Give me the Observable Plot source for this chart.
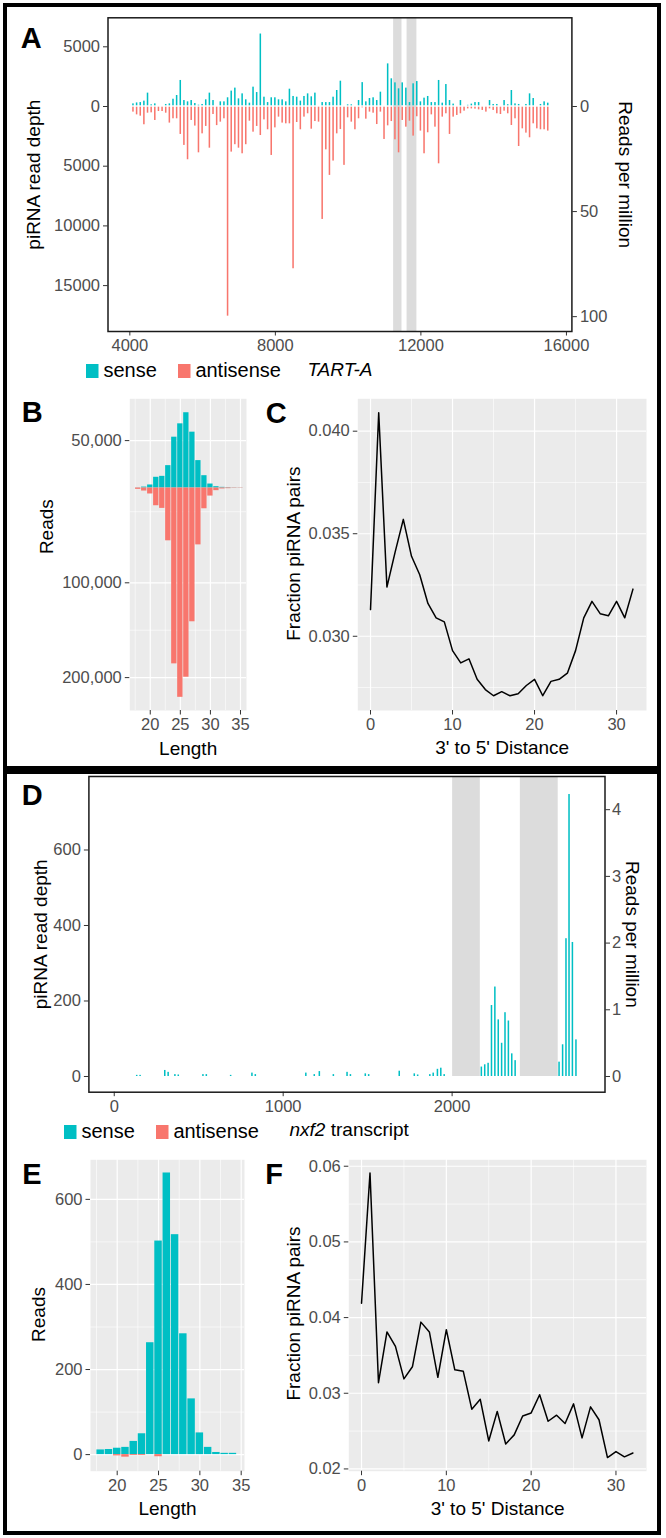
<!DOCTYPE html>
<html><head><meta charset="utf-8">
<script src="https://cdn.jsdelivr.net/npm/d3@7"></script>
<script src="https://cdn.jsdelivr.net/npm/@observablehq/plot@0.6"></script>
<style>
body{margin:0;background:#fff;}
#root{position:relative;width:666px;height:1538px;overflow:hidden;background:#fff;font-family:Helvetica,Arial,"Liberation Sans",sans-serif;}
.box{position:absolute;border:4.5px solid #000;box-sizing:border-box;}
.lgwrap .lgd-swatches{font-family:Helvetica,Arial,"Liberation Sans",sans-serif;font-size:20px;color:#000;margin:0;min-height:24px;height:24px;display:flex;align-items:center;}
.lgwrap .lgd-swatch{margin-right:21px;}
.lgwrap .lgd-swatch > svg{margin-right:5px;}
</style></head>
<body><div id="root"></div>
<script>
// ---------------- DATA ----------------
const strands = ["sense", "antisense"];
const strandColors = ["#00BFC4", "#F8766D"];

// Panel A: TART-A coverage, 100-nt bins starting at 4100
const tartBinStart = 4100, tartBinSize = 100;
const tartSense = [220,300,330,450,1120,140,220,40,40,170,220,610,920,2180,500,390,500,250,110,170,560,1120,500,
  50,390,390,730,1290,1540,640,1060,560,280,1620,1170,6070,780,330,730,730,560,560,390,1450,840,780,450,840,1060,810,1120,0,330,
  330,330,780,1340,2120,0,140,140,0,500,2000,390,670,730,500,1200,0,3570,2320,1980,1480,1980,1540,330,1900,2090,390,700,840,330,
  330,2180,280,1840,500,200,0,500,0,100,200,330,330,0,50,500,170,170,0,500,150,1340,220,170,0,170,1060,670,0,170,390,280];
const tartAntisense = [470,700,810,1530,560,530,1170,420,420,560,1390,1030,1030,2340,3260,4460,1170,1640,3880,2290,1670,3490,670,
  1600,1310,1030,17560,3820,3200,3490,3960,3200,1230,2150,1670,2430,1120,1950,4100,1790,890,1390,1450,1450,13590,1340,1950,890,610,1900,1260,1310,9460,
  3630,5770,4570,2290,1930,4930,950,1310,1950,1030,110,1060,470,560,1510,470,2760,1620,1260,2790,3880,1170,1730,1230,2480,860,2060,3960,2200,700,
  1730,4800,890,610,2340,890,750,610,390,200,200,220,280,330,470,200,330,610,670,390,610,1590,1030,3350,1870,2230,2620,1450,1870,1950,1950,2060];
const tartBands = [[11250, 11480], [11620, 11890]];
const tartDepthTicks = [5000, 0, -5000, -10000, -15000];
const tartPosTicks = [4000, 8000, 12000, 16000];
const tartRpmTicks = [0, 50, 100];
const tartRpmFactor = 176; // reads per 1 RPM

// Panel B: TART-A length distribution
const bLengths = [18,19,20,21,22,23,24,25,26,27,28,29,30,31,32,33,34,35];
const bSense = [150,1000,3200,11300,12300,23600,53600,67700,79400,58900,28900,13000,4200,1400,700,350,150,100];
const bAntisense = [1400,3200,6300,18700,21500,55700,185500,220800,199600,141100,60000,21900,8500,2800,1000,700,350,300];
const bReadTicks = [50000, -100000, -200000];

// Panel C: TART-A ping-pong
const distances = [0,1,2,3,4,5,6,7,8,9,10,11,12,13,14,15,16,17,18,19,20,21,22,23,24,25,26,27,28,29,30,31,32];
const cFraction = [0.0313,0.0409,0.0324,0.0341,0.0357,0.0339,0.0330,0.0316,0.0309,0.0307,0.0293,0.0287,0.0289,0.0279,0.0274,0.0271,0.0273,
  0.0271,0.0272,0.0276,0.0279,0.0271,0.0278,0.0279,0.0282,0.0293,0.0309,0.0317,0.0311,0.0310,0.0317,0.0309,0.0323];

// Panel D: nxf2 transcript coverage
const nxf2Pos = [136,156,302,322,362,382,528,548,692,818,838,1137,1187,1217,1300,1381,1401,1489,1509,1690,1779,1799,1871,1891,1916,1936,1956,
  2176,2196,2216,2236,2256,2276,2296,2316,2336,2356,2376,2636,2657,2677,2695,2715,2736];
const nxf2Sense = [3,3,16,11,5,4,5,5,3,9,5,9,5,13,5,11,5,7,5,14,7,4,5,9,19,22,5,
  25,31,35,188,237,150,88,169,147,60,42,38,84,365,747,355,97];
const nxf2Bands = [[2003, 2167], [2404, 2628]];
const nxf2DepthTicks = [0, 200, 400, 600];
const nxf2PosTicks = [0, 1000, 2000];
const nxf2RpmTicks = [0, 1, 2, 3, 4];
const nxf2RpmFactor = 176.7;

// Panel E: nxf2 length distribution
const eLengths = [18,19,20,21,22,23,24,25,26,27,28,29,30,31,32,33,34];
const eSense = [11,12,15,17,31,49,263,502,662,517,284,131,51,17,5,3,3];
const eAntisense = [0,0,3,6,2,2,0,5,0,0,0,0,0,0,0,0,0];

// Panel F: nxf2 ping-pong
const fFraction = [0.0419,0.0591,0.0314,0.0381,0.0362,0.0319,0.0335,0.0394,0.0381,0.0321,0.0384,0.0331,0.0329,0.0279,0.0292,0.0237,0.0276,
  0.0233,0.0245,0.0270,0.0274,0.0298,0.0263,0.0271,0.0260,0.0286,0.0241,0.0282,0.0265,0.0215,0.0223,0.0216,0.0221];

// ---------------- HELPERS ----------------
const FONT = 'Helvetica, Arial, "Liberation Sans", sans-serif';
const root = document.getElementById("root");
function put(node, left, top) {
  node.style.position = "absolute";
  node.style.left = left + "px";
  node.style.top = top + "px";
  root.appendChild(node);
  return node;
}
const baseStyle = {fontFamily: FONT, fontSize: "16.5px", background: "transparent", overflow: "visible", color: "#000"};
const plain = d => String(d);
const axisOpts = {tickSize: 4.5, tickPadding: 3.5, color: "#4D4D4D", stroke: "#333333", label: null, tickFormat: plain};
const PANEL = "#EBEBEB";
const major = {stroke: "white", strokeOpacity: 1, strokeWidth: 1.2};
const minor = {stroke: "white", strokeOpacity: 1, strokeWidth: 0.6};
const colorScale = {domain: strands, range: strandColors};
function title(text, o) { return Plot.text([text], {text: d => d, fill: "#000", fontSize: 19, textAnchor: "middle", lineAnchor: "middle", ...o}); }
// rotated title: dx/dy are screen offsets from the frame anchor
function vtitle(text, anchor, rot, dx, dy) {
  return title(text, {frameAnchor: anchor, rotate: rot, dx, dy, textAnchor: "middle"});
}
function letter(text, o) { return Plot.text([text], {text: d => d, fill: "#000", fontSize: 29, fontWeight: "bold", frameAnchor: "top-left", textAnchor: "middle", lineAnchor: "middle", ...o}); }
function legend(left, top) {
  const lg = Plot.legend({color: colorScale, legend: "swatches", swatchWidth: 12.5, swatchHeight: 14, className: "lgd"});
  const w = document.createElement("div");
  w.className = "lgwrap";
  w.appendChild(lg);
  put(w, left, top);
}

// ---------------- PANEL A ----------------
const tartRows = tartSense.map((v, i) => ({pos: tartBinStart + i * tartBinSize, strand: "sense", reads: v}))
  .concat(tartAntisense.map((v, i) => ({pos: tartBinStart + i * tartBinSize, strand: "antisense", reads: -v})));
const A = Plot.plot({
  width: 666, height: 385,
  marginLeft: 107.5, marginRight: 94.6, marginTop: 17.3, marginBottom: 54,
  style: baseStyle,
  x: {domain: [3400, 16150], label: null},
  y: {domain: [-18844, 7429], label: null},
  color: colorScale,
  marks: [
    Plot.rect(tartBands, {x1: d => d[0], x2: d => d[1], fill: "#DCDCDC"}),
    Plot.rect(tartRows.filter(d => d.strand === "sense"), {x1: d => d.pos - 21, x2: d => d.pos + 21, y1: 0, y2: "reads", fill: "strand", insetBottom: 0.7}),
    Plot.rect(tartRows.filter(d => d.strand === "antisense"), {x1: d => d.pos - 21, x2: d => d.pos + 21, y1: 0, y2: "reads", fill: "strand", insetTop: 0.7}),
    Plot.axisY(tartDepthTicks, {...axisOpts, anchor: "left", tickFormat: d => String(Math.abs(d))}),
    Plot.axisY(tartRpmTicks.map(r => -r * tartRpmFactor), {...axisOpts, anchor: "right", tickFormat: d => String(Math.round(-d / tartRpmFactor))}),
    Plot.axisX(tartPosTicks, {...axisOpts, anchor: "bottom"}),
    Plot.frame({stroke: "#1a1a1a", strokeWidth: 1.5}),
    vtitle("piRNA read depth", "left", -90, -74.5, 0),
    vtitle("Reads per million", "right", 90, 53.6, 0),
    title("TART-A", {frameAnchor: "bottom", dy: 38, fontStyle: "italic"}),
    letter("A", {dx: -76.8, dy: 20.7})
  ]
});
put(A, 0, 0);
legend(86, 358.5);

// ---------------- PANEL B ----------------
const bRows = bLengths.map((l, i) => ({len: l, strand: "sense", reads: bSense[i]}))
  .concat(bLengths.map((l, i) => ({len: l, strand: "antisense", reads: -bAntisense[i]})));
const B = Plot.plot({
  width: 250, height: 380,
  marginLeft: 129.3, marginRight: 4, marginTop: 18.3, marginBottom: 50,
  style: baseStyle,
  x: {domain: [16.6, 36.0], label: null},
  y: {domain: [-234700, 94100], label: null},
  color: colorScale,
  marks: [
    Plot.frame({fill: PANEL, stroke: "none"}),
    Plot.gridX([17.5, 22.5, 27.5, 32.5], minor),
    Plot.gridY([-25000, -150000], minor),
    Plot.gridX([20, 25, 30, 35], major),
    Plot.gridY(bReadTicks, major),
    Plot.rect(bRows, {x1: d => d.len - 0.5, x2: d => d.len + 0.5, y1: 0, y2: "reads", fill: "strand", insetLeft: 0.35, insetRight: 0.35}),
    Plot.axisY(bReadTicks, {...axisOpts, anchor: "left", tickFormat: d => d3.format(",")(Math.abs(d))}),
    Plot.axisX([20, 25, 30, 35], {...axisOpts, anchor: "bottom"}),
    vtitle("Reads", "left", -90, -82.6, -28),
    title("Length", {frameAnchor: "bottom", dy: 38.5}),
    letter("B", {dx: -97.6, dy: 14.2})
  ]
});
put(B, 0, 380);

// ---------------- PANEL C ----------------
const cRows = distances.map((d, i) => ({dist: d, frac: cFraction[i]}));
const C = Plot.plot({
  width: 416, height: 380,
  marginLeft: 117.3, marginRight: 10, marginTop: 18.3, marginBottom: 50,
  style: baseStyle,
  x: {domain: [-1.55, 33.65], label: null},
  y: {domain: [0.02638, 0.04158], label: null},
  marks: [
    Plot.frame({fill: PANEL, stroke: "none"}),
    Plot.gridX([5, 15, 25], minor),
    Plot.gridY([0.0275, 0.0325, 0.0375], minor),
    Plot.gridX([0, 10, 20, 30], major),
    Plot.gridY([0.030, 0.035, 0.040], major),
    Plot.line(cRows, {x: "dist", y: "frac", stroke: "#000", strokeWidth: 1.5}),
    Plot.axisY([0.030, 0.035, 0.040], {...axisOpts, anchor: "left", tickFormat: d3.format(".3f")}),
    Plot.axisX([0, 10, 20, 30], {...axisOpts, anchor: "bottom"}),
    vtitle("Fraction piRNA pairs", "left", -90, -64, -1),
    title("3' to 5' Distance", {frameAnchor: "bottom", dy: 37}),
    letter("C", {dx: -81.5, dy: 14.7})
  ]
});
put(C, 240, 380);

// ---------------- PANEL D ----------------
const nxf2YDomain = [-41.6, 794.7];
const nxf2Rows = nxf2Pos.map((p, i) => ({pos: p, strand: "sense", reads: nxf2Sense[i]}));
const D = Plot.plot({
  width: 666, height: 370,
  marginLeft: 88.4, marginRight: 61.5, marginTop: 6, marginBottom: 48.3,
  style: baseStyle,
  x: {domain: [-150, 2905], label: null},
  y: {domain: nxf2YDomain, label: null},
  color: colorScale,
  marks: [
    Plot.rect(nxf2Bands, {x1: d => d[0], x2: d => d[1], y1: 0, y2: nxf2YDomain[1], fill: "#DCDCDC"}),
    Plot.rect(nxf2Rows, {x1: d => d.pos - 4.5, x2: d => d.pos + 4.5, y1: 0, y2: "reads", fill: "strand"}),
    Plot.axisY(nxf2DepthTicks, {...axisOpts, anchor: "left"}),
    Plot.axisY(nxf2RpmTicks.map(r => r * nxf2RpmFactor), {...axisOpts, anchor: "right", tickPadding: 2.5, tickFormat: d => String(Math.round(d / nxf2RpmFactor))}),
    Plot.axisX(nxf2PosTicks, {...axisOpts, anchor: "bottom"}),
    Plot.frame({stroke: "#1a1a1a", strokeWidth: 1.5}),
    vtitle("piRNA read depth", "left", -90, -48.4, 0),
    vtitle("Reads per million", "right", 90, 27, 0),
    title("nxf2", {frameAnchor: "bottom", dy: 37.5, dx: -21.5, textAnchor: "end", fontStyle: "italic"}),
    title(" transcript", {frameAnchor: "bottom", dy: 37.5, dx: -21.5, textAnchor: "start"}),
    letter("D", {dx: -56.6, dy: 19})
  ]
});
put(D, 0, 770);
legend(64, 1119.5);

// ---------------- PANEL E ----------------
const eRows = eLengths.map((l, i) => ({len: l, strand: "sense", reads: eSense[i]}))
  .concat(eLengths.map((l, i) => ({len: l, strand: "antisense", reads: -eAntisense[i]})));
const E = Plot.plot({
  width: 250, height: 390,
  marginLeft: 90, marginRight: 6, marginTop: 19.3, marginBottom: 59.3,
  style: baseStyle,
  x: {domain: [16.77, 35.4], label: null},
  y: {domain: [-39, 693], label: null},
  color: colorScale,
  marks: [
    Plot.frame({fill: PANEL, stroke: "none"}),
    Plot.gridX([17.5, 22.5, 27.5, 32.5], minor),
    Plot.gridY([100, 300, 500], minor),
    Plot.gridX([20, 25, 30, 35], major),
    Plot.gridY([0, 200, 400, 600], major),
    Plot.rect(eRows, {x1: d => d.len - 0.5, x2: d => d.len + 0.5, y1: 0, y2: "reads", fill: "strand", insetLeft: 0.4, insetRight: 0.4}),
    Plot.axisY([0, 200, 400, 600], {...axisOpts, anchor: "left"}),
    Plot.axisX([20, 25, 30, 35], {...axisOpts, anchor: "bottom"}),
    vtitle("Reads", "left", -90, -52, -1),
    title("Length", {frameAnchor: "bottom", dy: 38}),
    letter("E", {dx: -58.5, dy: 14.7})
  ]
});
put(E, 0, 1140);

// ---------------- PANEL F ----------------
const fRows = distances.map((d, i) => ({dist: d, frac: fFraction[i]}));
const F = Plot.plot({
  width: 416, height: 390,
  marginLeft: 108.3, marginRight: 10, marginTop: 19.3, marginBottom: 59.3,
  style: baseStyle,
  x: {domain: [-1.5, 33.6], label: null},
  y: {domain: [0.0197, 0.06085], label: null},
  marks: [
    Plot.frame({fill: PANEL, stroke: "none"}),
    Plot.gridX([5, 15, 25], minor),
    Plot.gridY([0.025, 0.035, 0.045, 0.055], minor),
    Plot.gridX([0, 10, 20, 30], major),
    Plot.gridY([0.02, 0.03, 0.04, 0.05, 0.06], major),
    Plot.line(fRows, {x: "dist", y: "frac", stroke: "#000", strokeWidth: 1.5}),
    Plot.axisY([0.02, 0.03, 0.04, 0.05, 0.06], {...axisOpts, anchor: "left", tickFormat: d3.format(".2f")}),
    Plot.axisX([0, 10, 20, 30], {...axisOpts, anchor: "bottom"}),
    vtitle("Fraction piRNA pairs", "left", -90, -55, -2),
    title("3' to 5' Distance", {frameAnchor: "bottom", dy: 38}),
    letter("F", {dx: -74.8, dy: 14.7})
  ]
});
put(F, 240, 1140);

// ---------------- FRAMES ----------------
const box1 = document.createElement("div"); box1.className = "box";
box1.style.width = "658px"; box1.style.height = "767px"; put(box1, 3, 3);
const box2 = document.createElement("div"); box2.className = "box";
box2.style.width = "658px"; box2.style.height = "765px"; put(box2, 3, 770);
</script>
</body></html>
